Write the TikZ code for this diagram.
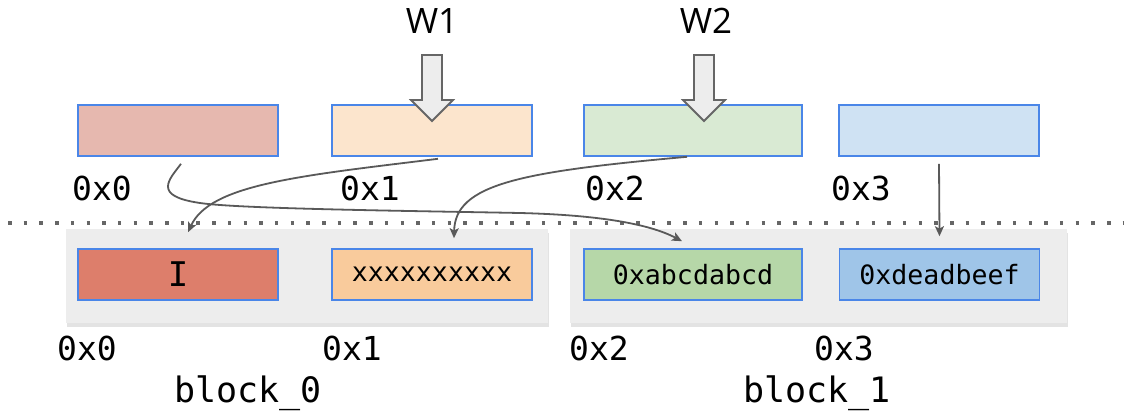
\documentclass[tikz,border=0pt]{standalone}
\usepackage{fontspec}
\setmainfont{Open Sans}
\setmonofont{DejaVu Sans Mono}
\usetikzlibrary{arrows.meta,shadows}

\definecolor{rosa}{HTML}{E6B8AF}
\definecolor{peach}{HTML}{FCE5CD}
\definecolor{mint}{HTML}{D9EAD3}
\definecolor{sky}{HTML}{CFE2F3}
\definecolor{rosadark}{HTML}{DD7E6B}
\definecolor{peachdark}{HTML}{F9CB9C}
\definecolor{mintdark}{HTML}{B6D7A8}
\definecolor{skydark}{HTML}{9FC5E8}
\definecolor{rahmen}{HTML}{4A86E8}
\definecolor{linie}{HTML}{595959}

\tikzset{
  cell/.style={draw=rahmen, line width=0.8pt, minimum width=100pt, minimum height=25.5pt, inner sep=0pt, font=\ttfamily\fontsize{13.3}{14}\selectfont},
  blockbg/.style={fill=black!7, minimum height=47pt, inner sep=0pt, drop shadow={shadow xshift=0.6pt, shadow yshift=-2pt, opacity=0.22}},
  addr/.style={anchor=base, inner sep=0pt, font=\ttfamily\fontsize{16.5}{18}\selectfont},
  blockname/.style={anchor=base, inner sep=0pt, font=\ttfamily\fontsize{17.5}{20}\selectfont},
  link/.style={draw=linie, line width=0.9pt, -{Stealth[length=5pt,width=4.5pt,inset=1.2pt]}},
  bigarrow/.style={fill=black!7, draw=black!60, line width=0.9pt, line join=miter},
}

\begin{document}
\begin{tikzpicture}[x=0.5pt,y=-0.5pt]
\useasboundingbox (0,0) rectangle (1124,413);

%Trennlinie
\draw[black!60, line width=1.75pt, dash pattern=on 1.75pt off 6.1pt] (8,223) -- (1124,223);

%Bloecke unten
\node[blockbg, minimum width=241pt] (blk0) at (307,276) {};
\node[blockbg, minimum width=248.5pt] (blk1) at (818.5,276) {};

%Zellen oben
\node[cell, fill=rosa] (m0) at (178,130.5) {};
\node[cell, fill=peach] (m1) at (432,130.5) {};
\node[cell, fill=mint, minimum width=109pt] (m2) at (693,130.5) {};
\node[cell, fill=sky] (m3) at (939,130.5) {};

%Zellen unten
\node[cell, fill=rosadark] (c0) at (178,274.5) {\fontsize{17}{18}\selectfont I};
\node[cell, fill=peachdark] (c1) at (432,274.5) {xxxxxxxxxx};
\node[cell, fill=mintdark, minimum width=109pt] (c2) at (693,274.5) {0xabcdabcd};
\node[cell, fill=skydark] (c3) at (939.5,274.5) {0xdeadbeef};

%Adressen
\node[addr] (a0) at (102,200) {0x0};
\node[addr] (a1) at (370,200) {0x1};
\node[addr] (a2) at (615,200) {0x2};
\node[addr] (a3) at (861,200) {0x3};
\node[addr] (b0) at (87,360) {0x0};
\node[addr] (b1) at (352,360) {0x1};
\node[addr] (b2) at (599,360) {0x2};
\node[addr] (b3) at (844,360) {0x3};
\node[blockname] (n0) at (248,402) {block\_0};
\node[blockname] (n1) at (817,402) {block\_1};

%Schreiber
\node[anchor=base, inner sep=0pt, font=\fontsize{17.5}{20}\selectfont] (w1) at (432,33) {W1};
\node[anchor=base, inner sep=0pt, font=\fontsize{17.5}{20}\selectfont] (w2) at (706,33) {W2};
\foreach \xa in {432,704}
  \filldraw[bigarrow] (\xa-10,55) -- (\xa+10,55) -- (\xa+10,100) -- (\xa+21,100) -- (\xa,121) -- (\xa-21,100) -- (\xa-10,100) -- cycle;

%Verschiebungen
\draw[link] ([shift={(3,7)}]m0.south) .. controls +(-12,16) and +(-48,-7) .. (200,203)
  .. controls +(40,6) and +(-100,-2) .. (520,213)
  .. controls +(80,2) and +(-32,-17) .. ([shift={(-11,-7)}]c2.north);
\draw[link] ([shift={(6,2)}]m1.south) .. controls +(-138,17) and +(22,-48) .. ([shift={(10,-16)}]c0.north);
\draw[link] ([shift={(-6,0)}]m2.south) .. controls +(-167,15) and +(1,-54) .. ([shift={(22,-10)}]c1.north);
\draw[link] ([shift={(0,7)}]m3.south) -- ([shift={(0,-12)}]c3.north);

\end{tikzpicture}
\end{document}
